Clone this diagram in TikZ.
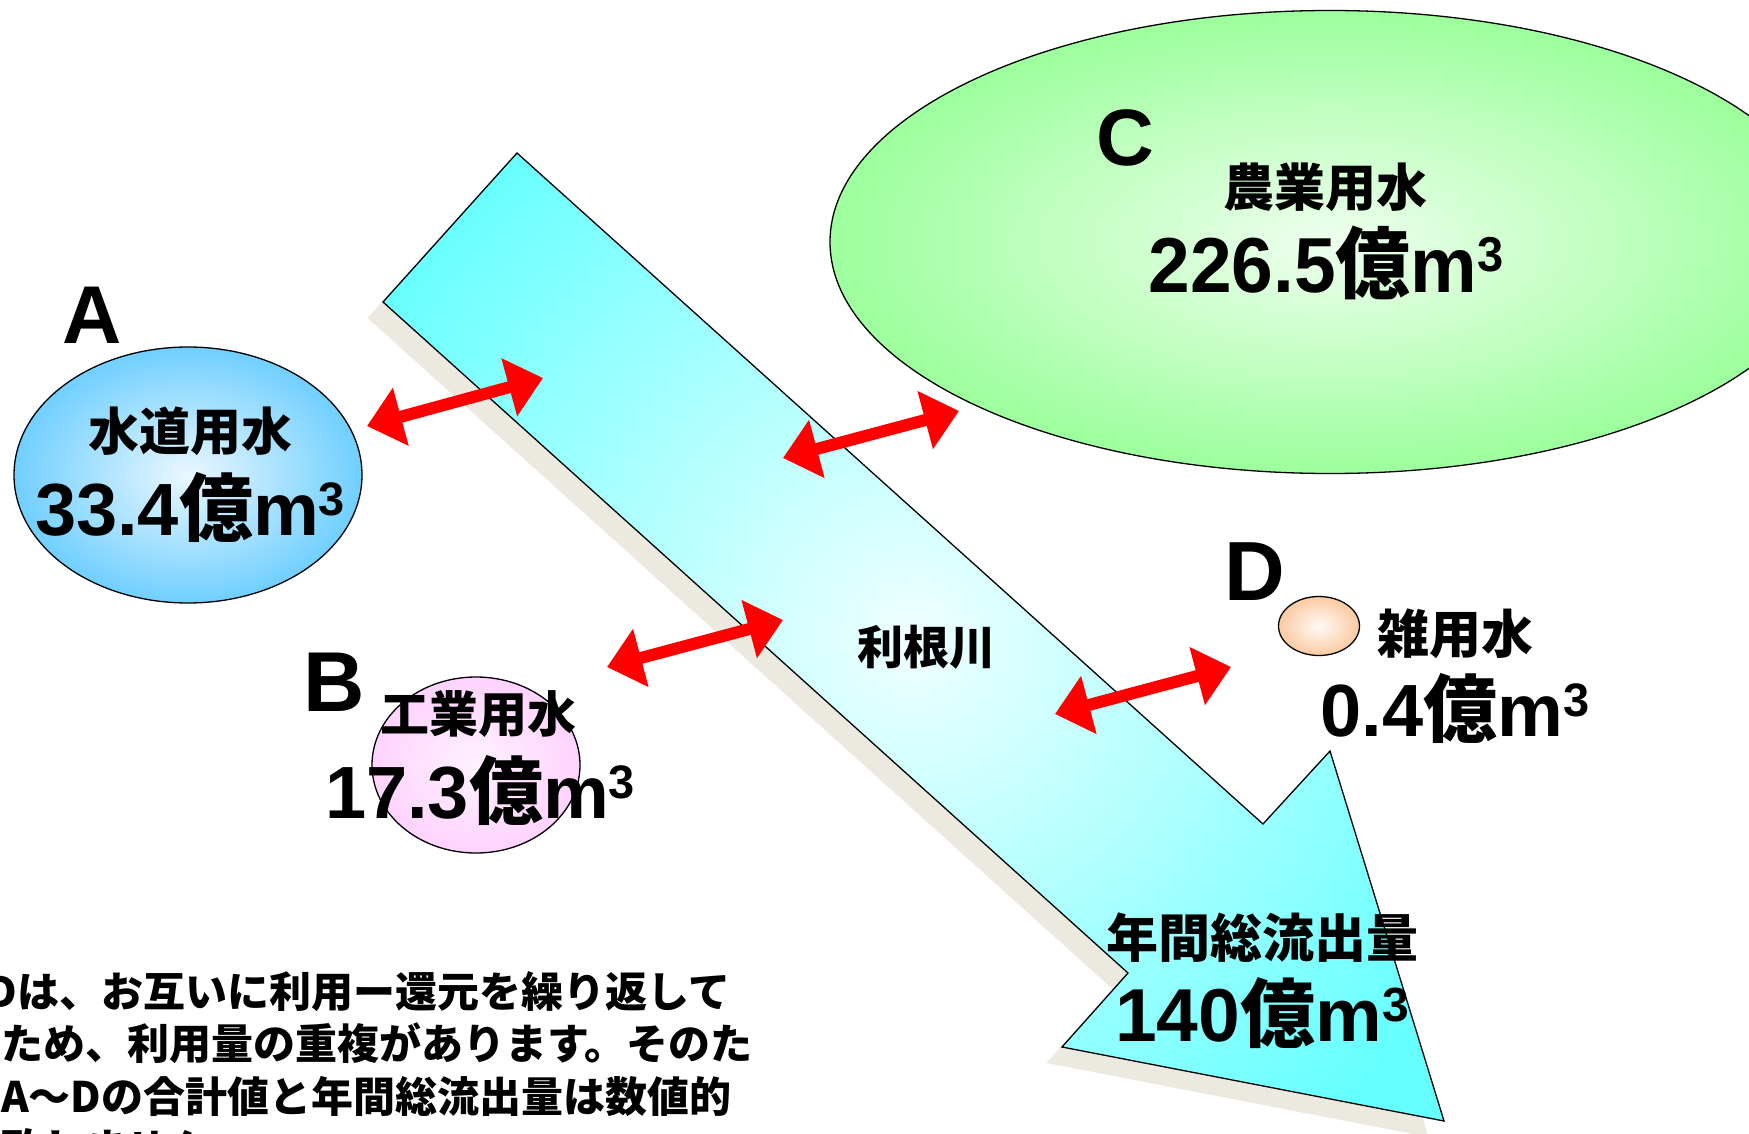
\documentclass[tikz,border=0pt]{standalone}
\usepackage{fontspec}
\setmainfont{Liberation Sans}
\newfontfamily\jp{Noto Sans CJK JP}
\usetikzlibrary{arrows.meta,shapes.geometric}

\definecolor{rivE}{RGB}{102,255,255}
\definecolor{rivC}{RGB}{240,255,255}
\definecolor{shadowc}{RGB}{236,234,224}
\definecolor{aOut}{RGB}{102,204,255}
\definecolor{aIn}{RGB}{234,247,255}
\definecolor{bOut}{RGB}{255,204,255}
\definecolor{bIn}{RGB}{255,242,255}
\definecolor{cOut}{RGB}{153,255,153}
\definecolor{cIn}{RGB}{238,255,238}
\definecolor{dOut}{RGB}{250,192,144}
\definecolor{dIn}{RGB}{255,250,246}

\pgfdeclareradialshading{shRiver}{\pgfpoint{0bp}{0bp}}{color(0bp)=(rivC); color(22bp)=(rivE); color(50bp)=(rivE)}
\pgfdeclareradialshading{shA}{\pgfpoint{0bp}{0bp}}{color(0bp)=(aIn); color(27bp)=(aOut); color(50bp)=(aOut)}
\pgfdeclareradialshading{shB}{\pgfpoint{0bp}{0bp}}{color(0bp)=(bIn); color(30bp)=(bOut); color(50bp)=(bOut)}
\pgfdeclareradialshading{shC}{\pgfpoint{0bp}{0bp}}{color(0bp)=(cIn); color(26bp)=(cOut); color(50bp)=(cOut)}
\pgfdeclareradialshading{shD}{\pgfpoint{0bp}{0bp}}{color(0bp)=(dIn); color(30bp)=(dOut); color(50bp)=(dOut)}

% #1 main size, #2 superscript size, #3 number
\newcommand\amt[3]{\fontsize{#1pt}{#1pt}\selectfont\bfseries #3{\jp\bfseries 億}m\raisebox{0.26em}{\fontsize{#2pt}{#2pt}\selectfont 3}}

\begin{document}
\begin{tikzpicture}[x=1pt,y=-1pt,
  txt/.style={inner sep=0pt, anchor=base},
  jpt/.style={txt, font={\fontsize{#1pt}{#1pt}\selectfont\jp\bfseries}},
  letter/.style={txt, font={\fontsize{#1pt}{#1pt}\selectfont\bfseries}},
  blob/.style={ellipse, draw=black, line width=1.3pt, inner sep=0pt, outer sep=0pt},
  flow/.style={draw=red, line width=12pt, {Triangle[length=35pt,width=58pt]}-{Triangle[length=35pt,width=58pt]}},
  btext/.style={inner sep=0pt, anchor=base west, font={\fontsize{42pt}{42pt}\selectfont\jp\bfseries}}
]
\useasboundingbox (0,0) rectangle (1749,1134);
\clip (0,0) rectangle (1749,1134);
\fill[white] (0,0) rectangle (1749,1134);

% river corners
\coordinate (r1) at (517,153);
\coordinate (r2) at (1263,824);
\coordinate (r3) at (1330,751);
\coordinate (r4) at (1444,1121);
\coordinate (r5) at (1062,1047);
\coordinate (r6) at (1128,973);
\coordinate (r7) at (383,302);

% shadow
\fill[shadowc, shift={(-15.5,16)}] (517,153) -- (1263,824) -- (1330,751) -- (1444,1121) -- (1062,1047) -- (1128,973) -- (383,302) -- cycle;

% river body
\begin{scope}
  \clip (r1) -- (r2) -- (r3) -- (r4) -- (r5) -- (r6) -- (r7) -- cycle;
  \fill[rivE] (r7) rectangle (r4);
  \shade[shading=shRiver] (913,637) circle [radius=720pt];
\end{scope}
\draw[line width=1.3pt, line join=miter] (r1) -- (r2) -- (r3) -- (r4) -- (r5) -- (r6) -- (r7) -- cycle;

% ellipses
\node[blob, shading=shA, minimum width=348pt, minimum height=256pt] (ellA) at (188,475) {};
\node[blob, shading=shB, minimum width=208pt, minimum height=176pt] (ellB) at (476,765) {};
\node[blob, shading=shC, minimum width=1000pt, minimum height=463pt] (ellC) at (1330,242) {};
\node[blob, shading=shD, minimum width=81pt, minimum height=59pt] (ellD) at (1319,626) {};

% exchange arrows
\coordinate (a1) at (367,426);  \coordinate (a2) at (543,378);
\coordinate (b1) at (607,667);  \coordinate (b2) at (783,620);
\coordinate (c1) at (783,458);  \coordinate (c2) at (959,411);
\coordinate (d1) at (1055,714); \coordinate (d2) at (1231,667);
\draw[flow] (a1) -- (a2);
\draw[flow] (b1) -- (b2);
\draw[flow] (c1) -- (c2);
\draw[flow] (d1) -- (d2);

% letters
\node[letter=82] (labA) at (92,343) {A};
\node[letter=85] (labB) at (334,711) {B};
\node[letter=80] (labC) at (1125,166) {C};
\node[letter=84] (labD) at (1255,600) {D};

% names and amounts
\node[jpt=51] (nameA) at (190,450) {水道用水};
\node[txt] (amtA) at (190,535) {\amt{74}{47}{33.4}};

\node[jpt=49] (nameB) at (478,732) {工業用水};
\node[txt] (amtB) at (480,818) {\amt{74}{47}{17.3}};

\node[jpt=51] (nameC) at (1325,207) {農業用水};
\node[txt] (amtC) at (1326,292) {\scalebox{0.96}[1]{\amt{78}{49}{226.5}}};

\node[jpt=52, anchor=base west] (nameD) at (1377,653) {雑用水};
\node[txt] (amtD) at (1455,736) {\amt{74}{47}{0.4}};

\node[jpt=46] (river) at (926,664) {利根川};
\node[jpt=52] (outName) at (1262,957) {年間総流出量};
\node[txt] (outAmt) at (1262,1041) {\amt{75}{48}{140}};

% note text
\node[btext] (note1) at (-83,1007) {A～Dは、お互いに利用ー還元を繰り返して};
\node[btext] (note2) at (-83,1059.5) {いるため、利用量の重複があります。そのた};
\node[btext] (note3) at (-83,1112) {め、A～Dの合計値と年間総流出量は数値的};
\node[btext] (note4) at (-83,1164.5) {に一致しません。};
\end{tikzpicture}
\end{document}
